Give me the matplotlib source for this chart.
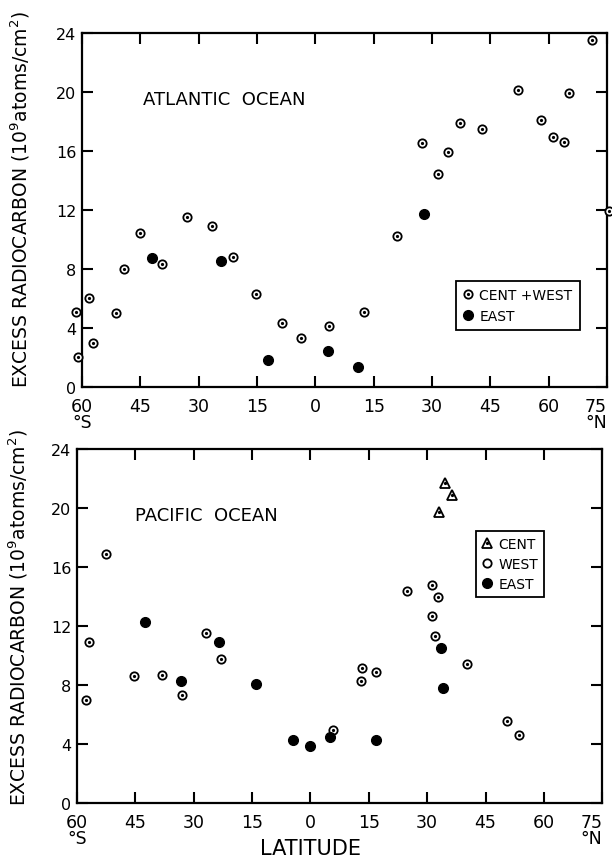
import matplotlib
matplotlib.use("Agg")
import matplotlib.pyplot as plt
from matplotlib.legend_handler import HandlerTuple

plt.rcParams['font.family'] = ['DejaVu Sans']

# ---------------- data (latitude: negative = south) ----------------
atl_cw_lat = [-61.5, -58.1, -61.0, -57.3, -51.2, -49.1, -45.0, -39.4, -32.9, -26.7,
              -21.1, -15.2, -8.5, -3.6, 3.6, 12.6, 21.1, 27.5, 31.4, 34.2,
              37.3, 42.9, 52.2, 58.1, 61.2, 64.0, 65.3, 71.0, 75.6]
atl_cw_val = [5.1, 6.0, 2.0, 3.0, 5.0, 8.0, 10.4, 8.3, 11.5, 10.9,
              8.8, 6.3, 4.3, 3.3, 4.1, 5.1, 10.2, 16.5, 14.4, 15.9,
              17.9, 17.5, 20.1, 18.1, 16.9, 16.6, 19.9, 23.5, 11.9]
atl_e_lat = [-41.9, -24.2, -12.3, 3.3, 11.0, 28.0]
atl_e_val = [8.7, 8.5, 1.8, 2.4, 1.35, 11.7]

pac_w_lat = [-57.7, -56.9, -52.6, -45.4, -38.2, -33.1, -26.9, -23.1, 5.9, 13.3,
             13.1, 16.9, 24.9, 31.3, 32.8, 31.3, 32.1, 40.3, 50.5, 53.6]
pac_w_val = [7.0, 10.9, 16.9, 8.6, 8.7, 7.3, 11.5, 9.8, 4.95, 9.15,
             8.3, 8.9, 14.4, 14.8, 14.0, 12.7, 11.3, 9.4, 5.6, 4.6]
pac_e_lat = [-42.6, -23.6, -33.3, -14.1, -4.6, 0.0, 4.9, 16.9, 33.6, 34.1]
pac_e_val = [12.3, 10.9, 8.3, 8.1, 4.3, 3.9, 4.5, 4.3, 10.5, 7.8]
pac_c_lat = [34.6, 36.4, 33.1]
pac_c_val = [21.7, 20.9, 19.7]

xticks = [-60, -45, -30, -15, 0, 15, 30, 45, 60, 75]
xticklabels = ["60\n°S", "45", "30", "15", "0", "15", "30", "45", "60", "75\n°N"]
yticks = [0, 4, 8, 12, 16, 20, 24]
ylabel = "EXCESS RADIOCARBON (10$^9$atoms/cm$^2$)"

fig = plt.figure(figsize=(6.12, 8.62), dpi=100)

def style_axes(ax):
    ax.set_xlim(-60, 75)
    ax.set_ylim(0, 24)
    ax.set_xticks(xticks)
    ax.set_xticklabels(xticklabels, fontsize=12.5, linespacing=0.85)
    ax.set_yticks(yticks)
    ax.set_yticklabels([str(v) for v in yticks], fontsize=11.5)
    ax.tick_params(direction='in', top=True, right=True, length=8, width=1.5)
    ax.tick_params(axis='x', pad=7)
    ax.tick_params(axis='y', pad=4)
    labs = ax.get_xticklabels()
    labs[-1].set_horizontalalignment('right')
    for s in ax.spines.values():
        s.set_linewidth(1.6)

def open_dot(ax, x, y, marker='o', ms=6.0):
    h1, = ax.plot(x, y, linestyle='none', marker=marker, ms=ms, mfc='white',
                  mec='black', mew=1.3, clip_on=False, zorder=3)
    h2, = ax.plot(x, y, linestyle='none', marker='o', ms=1.3, mfc='black',
                  mec='black', clip_on=False, zorder=4)
    return h1, h2

def filled(ax, x, y):
    h, = ax.plot(x, y, linestyle='none', marker='o', ms=7, mfc='black',
                 mec='black', clip_on=False, zorder=3)
    return h

# ---------------- Atlantic ----------------
ax1 = fig.add_axes([0.134, 0.550, 0.858, 0.411])
style_axes(ax1)
c1, d1 = open_dot(ax1, atl_cw_lat, atl_cw_val)
e1 = filled(ax1, atl_e_lat, atl_e_val)
ax1.text(-44.3, 19.5, "ATLANTIC  OCEAN", fontsize=13, va='center', ha='left')
leg1 = ax1.legend([(c1, d1), e1], ["CENT +WEST", "EAST"], loc='upper left',
                  bbox_to_anchor=(0.712, 0.299), fontsize=10, frameon=True,
                  fancybox=False, edgecolor='black', framealpha=1,
                  handler_map={tuple: HandlerTuple(ndivide=1)},
                  handlelength=0.8, handletextpad=0.4, borderpad=0.5,
                  labelspacing=0.5, borderaxespad=0)
leg1.get_frame().set_linewidth(1.3)
fig.text(0.033, 0.769, ylabel, rotation=90, ha='center', va='center', fontsize=13.5)

# ---------------- Pacific ----------------
ax2 = fig.add_axes([0.126, 0.067, 0.858, 0.411])
style_axes(ax2)
tc1, td1 = open_dot(ax2, pac_c_lat, pac_c_val, marker='^', ms=7)
w1, wd1 = open_dot(ax2, pac_w_lat, pac_w_val)
e2 = filled(ax2, pac_e_lat, pac_e_val)
ax2.text(-45.1, 19.5, "PACIFIC  OCEAN", fontsize=13, va='center', ha='left')
leg2 = ax2.legend([(tc1, td1), w1, e2], ["CENT", "WEST", "EAST"], loc='upper left',
                  bbox_to_anchor=(0.76, 0.768), fontsize=10, frameon=True,
                  fancybox=False, edgecolor='black', framealpha=1,
                  handler_map={tuple: HandlerTuple(ndivide=1)},
                  handlelength=0.8, handletextpad=0.4, borderpad=0.4,
                  labelspacing=0.45, borderaxespad=0)
leg2.get_frame().set_linewidth(1.3)
fig.text(0.030, 0.284, ylabel, rotation=90, ha='center', va='center', fontsize=13.5)
fig.text(0.508, 0.003, "LATITUDE", ha='center', va='bottom', fontsize=15)

fig.savefig("out.png", dpi=100)
